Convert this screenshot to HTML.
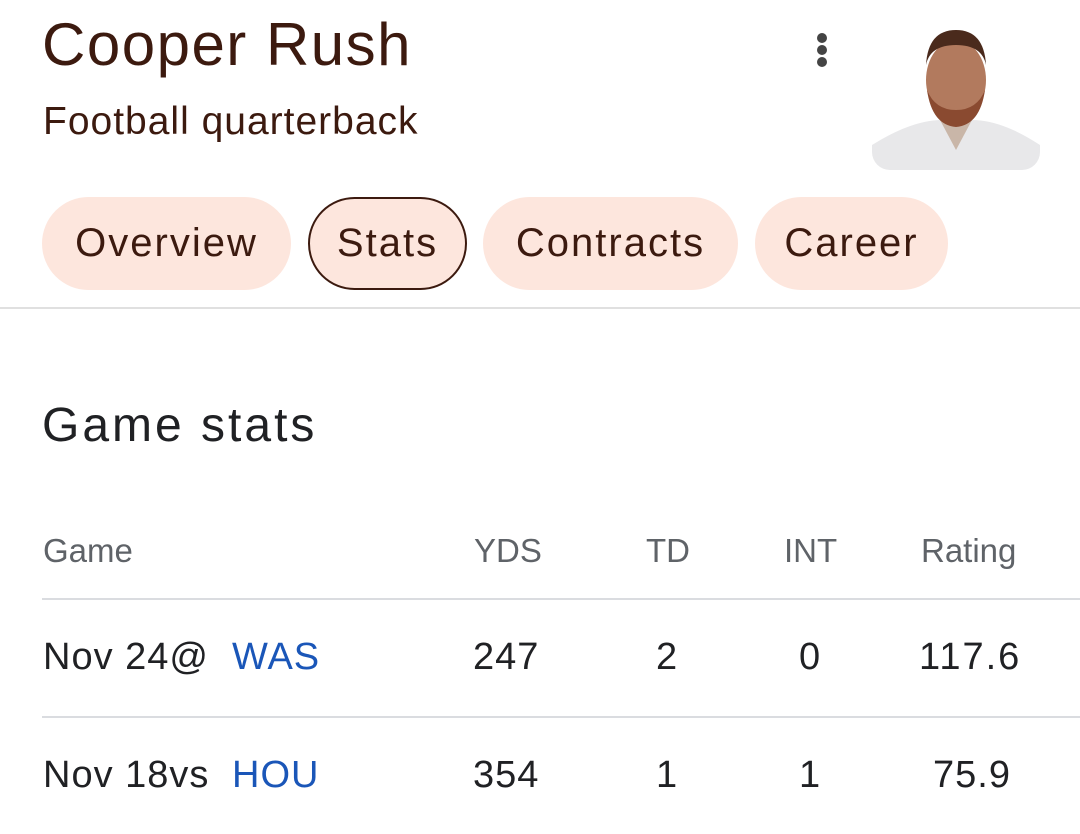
<!DOCTYPE html>
<html><head><meta charset="utf-8"><style>
body{margin:0;width:1080px;height:834px;background:#fff;overflow:hidden;position:relative;font-family:"Liberation Sans",sans-serif}
.a{position:absolute;white-space:nowrap}
.chip{position:absolute;top:197px;height:93px;border-radius:47px;background:#fde6dd;color:#3c1a0f;font-size:40px;line-height:93px;text-align:center;box-sizing:border-box;letter-spacing:2px}
.h{color:#5f6368;font-size:33px;top:532px}
.r{color:#202124;font-size:38px;letter-spacing:1px}
</style></head><body>
<div class="a" style="left:42px;top:10px;font-size:60px;color:#3c1a0f;letter-spacing:1.5px">Cooper Rush</div>
<div class="a" style="left:43px;top:100px;font-size:39px;color:#3c1a0f;letter-spacing:1px">Football quarterback</div>
<div class="a" style="left:817px;top:33px;width:10px;height:10px;border-radius:5px;background:#444"></div>
<div class="a" style="left:817px;top:45px;width:10px;height:10px;border-radius:5px;background:#444"></div>
<div class="a" style="left:817px;top:57px;width:10px;height:10px;border-radius:5px;background:#444"></div>
<svg class="a" style="left:872px;top:25px" width="168" height="145">
<defs><clipPath id="c"><rect width="168" height="145" rx="18"/></clipPath></defs>
<g clip-path="url(#c)">
<rect width="168" height="145" fill="#fff"/>
<path d="M0 120 Q40 95 70 95 L100 95 Q130 95 168 120 L168 145 L0 145Z" fill="#e8e8ea"/>
<path d="M68 95 L84 125 L100 95Z" fill="#c9b6a8"/>
<ellipse cx="84" cy="55" rx="30" ry="40" fill="#b27a5e"/>
<path d="M54 40 Q56 5 84 5 Q112 5 114 40 Q110 20 84 20 Q58 20 54 40Z" fill="#4a2a1c"/>
<path d="M55 65 Q60 100 84 102 Q108 100 113 65 Q105 85 84 85 Q63 85 55 65Z" fill="#8a4a30"/>
</g></svg>
<div class="chip" style="left:42px;width:249px">Overview</div>
<div class="chip" style="left:308px;width:159px;border:2px solid #3c1a0f;line-height:89px">Stats</div>
<div class="chip" style="left:483px;width:255px">Contracts</div>
<div class="chip" style="left:755px;width:193px">Career</div>
<div class="a" style="left:0;top:307px;width:1080px;height:2px;background:#e0e0e0"></div>
<div class="a" style="left:42px;top:398px;font-size:48px;color:#202124;letter-spacing:3px">Game stats</div>
<div class="a h" style="left:43px">Game</div>
<div class="a h" style="left:474px">YDS</div>
<div class="a h" style="left:646px">TD</div>
<div class="a h" style="left:784px">INT</div>
<div class="a h" style="left:921px">Rating</div>
<div class="a" style="left:42px;top:598px;width:1038px;height:2px;background:#dadce0"></div>
<div class="a r" style="left:43px;top:636px">Nov 24@</div>
<div class="a r" style="left:232px;top:636px;color:#1a56b8">WAS</div>
<div class="a r" style="left:473px;top:636px">247</div>
<div class="a r" style="left:656px;top:636px">2</div>
<div class="a r" style="left:799px;top:636px">0</div>
<div class="a r" style="left:919px;top:636px;letter-spacing:2px">117.6</div>
<div class="a" style="left:42px;top:716px;width:1038px;height:2px;background:#dadce0"></div>
<div class="a r" style="left:43px;top:754px">Nov 18vs</div>
<div class="a r" style="left:232px;top:754px;color:#1a56b8">HOU</div>
<div class="a r" style="left:473px;top:754px">354</div>
<div class="a r" style="left:656px;top:754px">1</div>
<div class="a r" style="left:799px;top:754px">1</div>
<div class="a r" style="left:933px;top:754px">75.9</div>
</body></html>
